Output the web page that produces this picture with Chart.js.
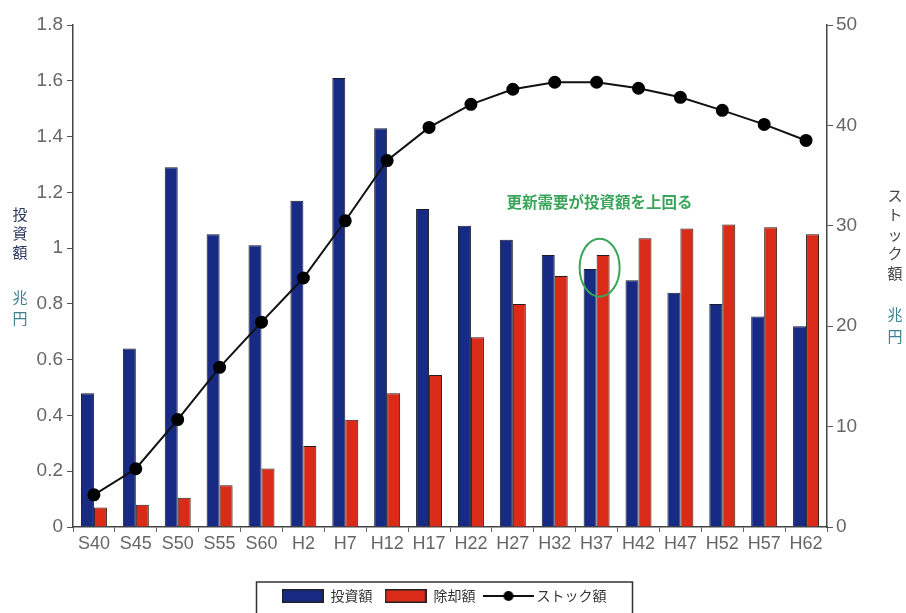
<!DOCTYPE html>
<html lang="ja">
<head>
<meta charset="utf-8">
<title>投資額・除却額・ストック額の推移</title>
<script src="https://cdn.jsdelivr.net/npm/chart.js@4.4.1/dist/chart.umd.min.js"></script>
<style>
  html, body { margin: 0; padding: 0; background: #fff; }
  #wrap { width: 906px; height: 613px; position: relative; }
</style>
</head>
<body>
<div id="wrap"><canvas id="chart"></canvas></div>
<script>
// 年度ごとの値（投資額・除却額は兆円、ストック額は兆円）
const years = ["S40", "S45", "S50", "S55", "S60", "H2", "H7", "H12", "H17",
  "H22", "H27", "H32", "H37", "H42", "H47", "H52", "H57", "H62"];
const investment = [0.48, 0.64, 1.29, 1.05, 1.01, 1.17, 1.61, 1.43, 1.14,
  1.08, 1.03, 0.975, 0.925, 0.885, 0.84, 0.80, 0.755, 0.72];
const removal = [0.07, 0.08, 0.105, 0.15, 0.21, 0.29, 0.385, 0.48, 0.545,
  0.68, 0.80, 0.90, 0.975, 1.035, 1.07, 1.085, 1.075, 1.05];
const stock = [3.2, 5.8, 10.7, 15.9, 20.4, 24.8, 30.5, 36.5, 39.8,
  42.1, 43.6, 44.3, 44.3, 43.7, 42.8, 41.5, 40.1, 38.5];

const noteText = "更新需要が投資額を上回る";
const noteIndex = 12;   // H37

const BLUE = "#172a84";
const RED = "#d92b17";
const GREEN = "#3aa55a";
const TICK_FONT = "'Liberation Sans Narrow', 'Liberation Sans', sans-serif";
const JP_FONT = "'Noto Sans CJK JP', sans-serif";
const legendOrder = ["投資額", "除却額", "ストック額"];

// 凡例用の小さな見本
function swatch(fill) {
  const c = document.createElement("canvas");
  c.width = 42; c.height = 14;
  const g = c.getContext("2d");
  g.fillStyle = fill;
  g.fillRect(0, 0, 42, 14);
  g.strokeStyle = "#222";
  g.lineWidth = 1.5;
  g.strokeRect(0.75, 0.75, 40.5, 12.5);
  return c;
}
function lineSwatch() {
  const c = document.createElement("canvas");
  c.width = 50; c.height = 14;
  const g = c.getContext("2d");
  g.strokeStyle = "#111";
  g.lineWidth = 2;
  g.beginPath(); g.moveTo(0, 7); g.lineTo(50, 7); g.stroke();
  g.fillStyle = "#000";
  g.beginPath(); g.arc(25, 7, 5, 0, Math.PI * 2); g.fill();
  return c;
}
const legendStyles = [swatch(BLUE), swatch(RED), lineSwatch()];

function drawStacked(ctx, text, x, y, step, color) {
  ctx.fillStyle = color;
  [...text].forEach((ch, i) => ctx.fillText(ch, x, y + i * step));
}

// 軸タイトル・注記・凡例枠
const extras = {
  id: "extras",
  afterDatasetsDraw(chart) {
    const { ctx, scales } = chart;
    const cx = scales.x.getPixelForValue(noteIndex) + 3;
    ctx.save();
    ctx.strokeStyle = GREEN;
    ctx.lineWidth = 2;
    ctx.beginPath();
    ctx.ellipse(cx, scales.y.getPixelForValue(0.93), 20, 29, 0, 0, Math.PI * 2);
    ctx.stroke();

    ctx.font = "bold 15.5px " + JP_FONT;
    ctx.textAlign = "center";
    ctx.textBaseline = "middle";
    ctx.fillStyle = GREEN;
    ctx.fillText(noteText, cx, scales.y.getPixelForValue(1.165));
    ctx.restore();
  },
  afterDraw(chart) {
    const { ctx } = chart;
    ctx.save();
    ctx.font = "15px " + JP_FONT;
    ctx.textAlign = "center";
    ctx.textBaseline = "middle";
    drawStacked(ctx, "投資額", 20, 214, 19, "#2b3a62");
    drawStacked(ctx, "兆円", 20, 297, 21, "#3d808f");
    drawStacked(ctx, "ストック額", 895, 195, 19.5, "#444");
    drawStacked(ctx, "兆円", 895, 314, 22, "#3d808f");

    const boxes = chart.legend.legendHitBoxes;
    if (boxes && boxes.length) {
      const left = Math.min(...boxes.map(b => b.left)) - 25;
      const right = Math.max(...boxes.map(b => b.left + b.width)) + 26;
      const top = boxes[0].top - 7;
      ctx.strokeStyle = "#333";
      ctx.lineWidth = 1.5;
      ctx.strokeRect(left, top, right - left, chart.height - top + 10);
    }
    ctx.restore();
  }
};

new Chart(document.getElementById("chart"), {
  type: "bar",
  data: {
    labels: years,
    datasets: [
      {
        type: "line",
        label: "ストック額",
        data: stock,
        yAxisID: "y2",
        borderColor: "#111",
        borderWidth: 2,
        pointRadius: 5.5,
        pointBackgroundColor: "#000",
        pointBorderColor: "#000",
        tension: 0,
        order: 0
      },
      {
        label: "投資額",
        data: investment,
        yAxisID: "y",
        backgroundColor: BLUE,
        borderColor: "#1a1a2a",
        borderWidth: 1,
        order: 1
      },
      {
        label: "除却額",
        data: removal,
        yAxisID: "y",
        backgroundColor: RED,
        borderColor: "#2a1a1a",
        borderWidth: 1,
        order: 1
      }
    ]
  },
  options: {
    responsive: true,
    maintainAspectRatio: false,
    animation: false,
    datasets: { bar: { categoryPercentage: 0.62, barPercentage: 1.0 } },
    layout: { padding: { top: 25, right: 18, left: 0, bottom: 0 } },
    plugins: {
      tooltip: { enabled: false },
      legend: {
        position: "bottom",
        labels: {
          usePointStyle: true,
          pointStyleWidth: 42,
          boxHeight: 14,
          padding: 12,
          color: "#333",
          font: { family: JP_FONT, size: 14 },
          sort: (a, b) => legendOrder.indexOf(a.text) - legendOrder.indexOf(b.text),
          generateLabels(chart) {
            const items = Chart.defaults.plugins.legend.labels.generateLabels(chart);
            items.forEach(it => { it.pointStyle = legendStyles[legendOrder.indexOf(it.text)]; });
            return items;
          }
        }
      }
    },
    scales: {
      x: {
        offset: true,
        afterFit: s => { s.height = 50; },
        grid: { drawOnChartArea: false, tickLength: 5, color: "#666", offset: true },
        border: { color: "#444", width: 1.5 },
        ticks: { color: "#666", padding: 1, font: { family: TICK_FONT, size: 18 }, maxRotation: 0, autoSkip: false }
      },
      y: {
        position: "left",
        min: 0, max: 1.8,
        afterFit: s => { s.width = 73; },
        grid: { drawOnChartArea: false, tickLength: 6, color: "#555" },
        border: { color: "#444", width: 1.5 },
        ticks: {
          stepSize: 0.2, color: "#666", padding: 4,
          font: { family: TICK_FONT, size: 19 },
          callback: v => String(+v.toFixed(1))
        }
      },
      y2: {
        position: "right",
        min: 0, max: 50,
        afterFit: s => { s.width = 61; },
        grid: { drawOnChartArea: false, tickLength: 6, color: "#555" },
        border: { color: "#444", width: 1.5 },
        ticks: { stepSize: 10, color: "#666", padding: 3, font: { family: TICK_FONT, size: 19 } }
      }
    }
  },
  plugins: [extras]
});
</script>
</body>
</html>
